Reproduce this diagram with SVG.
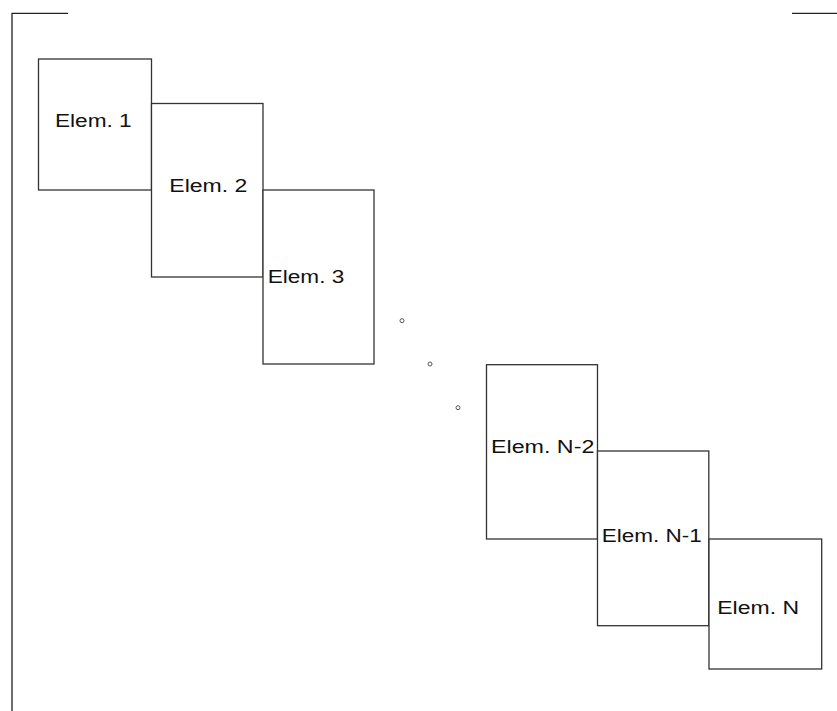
<svg xmlns="http://www.w3.org/2000/svg" width="837" height="711" viewBox="0 0 837 711">
<style>
.b{fill:#fff;stroke:#333;stroke-width:1.3}
.l{fill:none;stroke:#222;stroke-width:1.3}
.t{font-family:"Liberation Sans",Arial,sans-serif;font-size:18px;fill:#111}
.d{fill:none;stroke:#555;stroke-width:1}
</style>
<rect width="837" height="711" fill="#fff"/>
<g id="frame">
<polyline class="l" points="68,13.3 12,13.3 12,711"/>
<line class="l" x1="792" y1="13.3" x2="837" y2="13.3"/>
</g>
<g id="elem1"><rect class="b" x="38.5" y="59" width="113" height="131"/><text class="t" x="55" y="126.5" textLength="76.7" lengthAdjust="spacingAndGlyphs">Elem. 1</text></g>
<g id="elem2"><rect class="b" x="151.5" y="103.5" width="111.5" height="173.5"/><text class="t" x="169.3" y="192.3" textLength="78" lengthAdjust="spacingAndGlyphs">Elem. 2</text></g>
<g id="elem3"><rect class="b" x="263" y="190" width="111" height="174"/><text class="t" x="267.7" y="282.7" textLength="76.6" lengthAdjust="spacingAndGlyphs">Elem. 3</text></g>
<g id="dots">
<circle class="d" cx="402" cy="320.7" r="2"/>
<circle class="d" cx="430" cy="364" r="2"/>
<circle class="d" cx="458" cy="407.7" r="2"/>
</g>
<g id="elemN2"><rect class="b" x="486.5" y="364.7" width="111" height="174.3"/><text class="t" x="491" y="452.7" textLength="103.3" lengthAdjust="spacingAndGlyphs">Elem. N-2</text></g>
<g id="elemN1"><rect class="b" x="597.5" y="451" width="111.3" height="174.7"/><text class="t" x="601.7" y="542.3" textLength="100" lengthAdjust="spacingAndGlyphs">Elem. N-1</text></g>
<g id="elemN"><rect class="b" x="709" y="539" width="112.7" height="130"/><text class="t" x="717.3" y="614" textLength="81.7" lengthAdjust="spacingAndGlyphs">Elem. N</text></g>
<g id="connectors"></g>
</svg>
